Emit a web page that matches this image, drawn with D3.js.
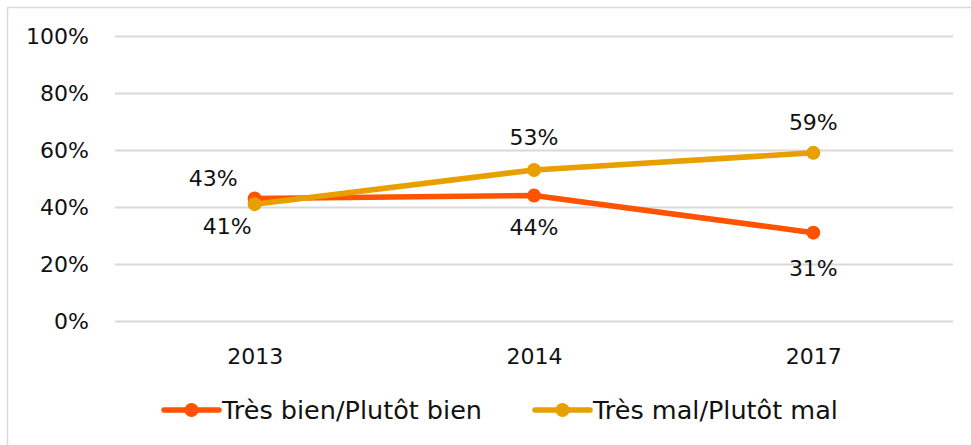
<!DOCTYPE html>
<html>
<head>
<meta charset="utf-8">
<script src="https://cdn.jsdelivr.net/npm/d3@7"></script>
<style>
body { margin:0; background:#fff; }
text { font-family:"DejaVu Sans", sans-serif; fill:#111; }
</style>
</head>
<body>
<svg id="chart"></svg>
<script>
// data
var years = ["2013","2014","2017"]
var tresBien = [43,44,31]
var tresMal = [41,53,59]
var seriesNames = ["Très bien/Plutôt bien","Très mal/Plutôt mal"]
var yTicks = [0,20,40,60,80,100]

var colors = ["#ff5300","#e8a000"]

var screen = {width:971, height:445}
var margins = {top:36, bottom:124, left:115, right:18}
var graph = {
    width:screen.width-margins.left-margins.right,
    height:screen.height-margins.top-margins.bottom
}

var svg = d3.select("#chart")
    .attr("width",screen.width)
    .attr("height",screen.height)

// frame (only top and left edges show)
svg.append("path")
    .attr("d","M7.5,"+screen.height+"V7.5H"+screen.width)
    .attr("fill","none")
    .attr("stroke","#d9d9d9")
    .attr("stroke-width",1.5)

var xScale = d3.scalePoint()
    .domain(years)
    .range([0,graph.width])
    .padding(0.5)

var yScale = d3.scaleLinear()
    .domain([0,100])
    .range([graph.height,0])

var g = svg.append("g")
    .attr("transform","translate("+margins.left+","+margins.top+")")

// gridlines + y labels
var yAxis = d3.axisLeft(yScale)
    .tickValues(yTicks)
    .tickSize(-graph.width)
    .tickPadding(26)
    .tickFormat(function(d){ return d+"%"; })

g.append("g")
    .attr("class","yaxis")
    .call(yAxis)
    .call(function(a){
        a.select(".domain").remove()
        a.selectAll("line").attr("stroke","#d9d9d9").attr("stroke-width",2)
        a.selectAll("text").style("font-size","22px").attr("fill","#111").attr("dy","0.36em")
    })

var xAxis = d3.axisBottom(xScale).tickSize(0).tickPadding(27)
g.append("g")
    .attr("transform","translate(0,"+graph.height+")")
    .call(xAxis)
    .call(function(a){
        a.select(".domain").remove()
        a.selectAll("text").style("font-size","22px").attr("fill","#111")
    })

var series = [tresBien,tresMal]
// label placement per series and point: dx, dy relative to marker
var labelPlace = [
    [{dx:-17,dy:-12,anchor:"end"},{dx:0,dy:39,anchor:"middle"},{dx:0,dy:43,anchor:"middle"}],
    [{dx:-3,dy:30,anchor:"end"},{dx:0,dy:-25,anchor:"middle"},{dx:0,dy:-23,anchor:"middle"}]
]

var line = d3.line()
    .x(function(d,i){ return xScale(years[i]); })
    .y(function(d){ return yScale(d); })

series.forEach(function(vals,s){
    var sg = g.append("g")
    sg.append("path")
        .datum(vals)
        .attr("d",line)
        .attr("fill","none")
        .attr("stroke",colors[s])
        .attr("stroke-width",5.5)
        .attr("stroke-linejoin","round")
    sg.selectAll("circle")
        .data(vals)
        .enter()
        .append("circle")
        .attr("cx",function(d,i){ return xScale(years[i]); })
        .attr("cy",function(d){ return yScale(d); })
        .attr("r",7)
        .attr("fill",colors[s])
})

// data labels drawn after lines
series.forEach(function(vals,s){
    g.append("g").selectAll("text")
        .data(vals)
        .enter()
        .append("text")
        .attr("x",function(d,i){ return xScale(years[i])+labelPlace[s][i].dx; })
        .attr("y",function(d,i){ return yScale(d)+labelPlace[s][i].dy; })
        .attr("text-anchor",function(d,i){ return labelPlace[s][i].anchor; })
        .style("font-size","22px")
        .text(function(d){ return d+"%"; })
})

// legend
var legendX = [164,535]
var legendY = 410
var legend = svg.append("g")
seriesNames.forEach(function(name,s){
    var lg = legend.append("g")
        .attr("transform","translate("+legendX[s]+","+legendY+")")
    lg.append("line")
        .attr("x1",0).attr("x2",55)
        .attr("stroke",colors[s])
        .attr("stroke-width",5.5)
        .attr("stroke-linecap","round")
    lg.append("circle")
        .attr("cx",27.5).attr("r",7)
        .attr("fill",colors[s])
    lg.append("text")
        .attr("x",58)
        .attr("y",9)
        .style("font-size","25.5px")
        .text(name)
})
</script>
</body>
</html>
